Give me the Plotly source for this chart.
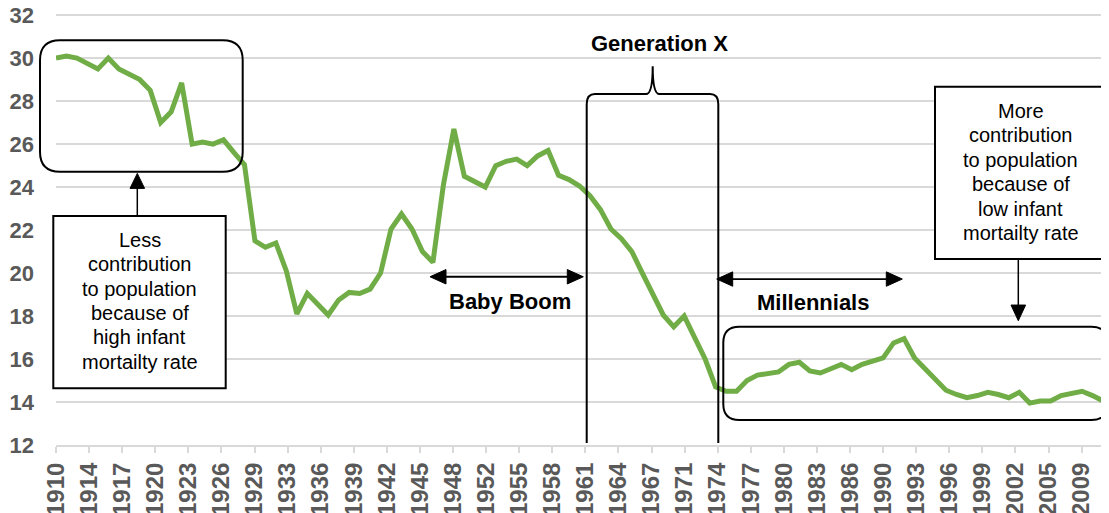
import plotly.graph_objects as go

# ---------------- data ----------------
years = list(range(1910, 2011))
birth_rate = [
    30.0, 30.1, 30.0, 29.75, 29.5, 30.0, 29.5, 29.25, 29.0, 28.5,
    27.0, 27.5, 28.85, 26.0, 26.1, 26.0, 26.2, 25.6, 25.05, 21.5,
    21.2, 21.4, 20.1, 18.1, 19.05, 18.55, 18.05, 18.75, 19.1, 19.05,
    19.25, 20.0, 22.05, 22.75, 22.05, 21.0, 20.5, 24.1, 26.7, 24.5,
    24.25, 24.0, 25.0, 25.2, 25.3, 25.0, 25.45, 25.7, 24.55, 24.35,
    24.05, 23.6, 22.95, 22.05, 21.6, 21.0, 20.0, 19.0, 18.05, 17.5,
    18.0, 17.0, 16.0, 14.7, 14.5, 14.5, 15.0, 15.25, 15.35, 15.4,
    15.75, 15.85, 15.45, 15.35, 15.55, 15.75, 15.5, 15.75, 15.9, 16.05,
    16.75, 16.95, 16.05, 15.55, 15.05, 14.55, 14.35, 14.2, 14.3, 14.45,
    14.35, 14.2, 14.45, 13.95, 14.05, 14.05, 14.3, 14.4, 14.5, 14.3,
    14.05,
]
tick_labels = ["1910", "1914", "1917", "1920", "1923", "1926", "1929", "1933",
               "1936", "1939", "1942", "1945", "1948", "1952", "1955", "1958",
               "1961", "1964", "1967", "1971", "1974", "1977", "1980", "1983",
               "1986", "1990", "1993", "1996", "1999", "2002", "2005", "2009"]
y_ticks = [12, 14, 16, 18, 20, 22, 24, 26, 28, 30, 32]

left_note = ["Less", "contribution", "to population", "because of",
             "high infant", "mortailty rate"]
right_note = ["More", "contribution", "to population", "because of",
              "low infant", "mortailty rate"]

# ---------------- layout helpers ----------------
# page body has an 8px margin, so the figure is offset by 8px
OFF = 8
W, H = 1109 - OFF, 513 - OFF
Y_MIN, Y_MAX = 12, 32.1          # a hair of headroom keeps the 32 gridline
PX_PER_UNIT = 21.5
# plot area in window pixel coordinates
PL, PR, PB = 56, 1103, 445
PT = PB - (Y_MAX - Y_MIN) * PX_PER_UNIT
TICK_STEP = 3.16


def fx(px):
    return (px - PL) / (PR - PL)


def fy(py):
    return (PB - py) / (PB - PT)


def P(px, py):
    return f"{fx(px):.5f},{fy(py):.5f}"


def rounded_rect(x0, y0, x1, y1, r):
    return (f"M {P(x0 + r, y0)} L {P(x1 - r, y0)} Q {P(x1, y0)} {P(x1, y0 + r)} "
            f"L {P(x1, y1 - r)} Q {P(x1, y1)} {P(x1 - r, y1)} "
            f"L {P(x0 + r, y1)} Q {P(x0, y1)} {P(x0, y1 - r)} "
            f"L {P(x0, y0 + r)} Q {P(x0, y0)} {P(x0 + r, y0)} Z")


def tri(tip, b1, b2):
    return f"M {P(*tip)} L {P(*b1)} L {P(*b2)} Z"


shapes = []


def add_path(path, width=2, fill=None):
    d = dict(type="path", xref="paper", yref="paper", path=path,
             line=dict(color="black", width=width), layer="above")
    if fill:
        d["fillcolor"] = fill
    shapes.append(d)


def add_line(x0, y0, x1, y1, width=2):
    shapes.append(dict(type="line", xref="paper", yref="paper",
                       x0=fx(x0), y0=fy(y0), x1=fx(x1), y1=fy(y1),
                       line=dict(color="black", width=width), layer="above"))


def add_rect(x0, y0, x1, y1, width=2):
    shapes.append(dict(type="rect", xref="paper", yref="paper",
                       x0=fx(x0), y0=fy(y0), x1=fx(x1), y1=fy(y1),
                       line=dict(color="black", width=width),
                       fillcolor="white", layer="above"))


# rounded highlight boxes
add_path(rounded_rect(40, 40, 242.7, 171.7, 20), width=2)
add_path(rounded_rect(723.3, 326.7, 1107.5, 420, 16), width=2)

# note boxes
add_rect(53.3, 216, 225.7, 388.3, width=2)
add_rect(935, 86.7, 1106.7, 259, width=2)

# arrow from left note up to box
add_line(137.3, 216, 137.3, 186, width=1.5)
add_path(tri((137.3, 173.3), (130, 188.3), (144.6, 188.3)), width=1, fill="black")

# arrow from right note down to box
add_line(1018.3, 259, 1018.3, 307, width=1.5)
add_path(tri((1018.3, 320.7), (1011, 305), (1025.6, 305)), width=1, fill="black")

# Generation X brace
brace = (f"M {P(586.7, 443)} L {P(586.7, 104)} Q {P(586.7, 94)} {P(595, 94)} "
         f"L {P(646, 94)} Q {P(652.7, 94)} {P(652.7, 66)} Q {P(652.7, 94)} {P(659.5, 94)} "
         f"L {P(710, 94)} Q {P(718.3, 94)} {P(718.3, 104)} L {P(718.3, 443)}")
add_path(brace, width=2)

# Baby Boom double arrow
add_line(444, 276.7, 569, 276.7, width=1.8)
add_path(tri((430, 276.7), (446, 269.5), (446, 283.9)), width=1, fill="black")
add_path(tri((583.3, 276.7), (567.3, 269.5), (567.3, 283.9)), width=1, fill="black")

# Millennials double arrow
add_line(730, 279, 888, 279, width=1.8)
add_path(tri((716.7, 279), (732.7, 271.8), (732.7, 286.2)), width=1, fill="black")
add_path(tri((902.3, 279), (886.3, 271.8), (886.3, 286.2)), width=1, fill="black")

annotations = []
FONT = "Liberation Sans, Arial, sans-serif"


def add_text(px, py, text, size, bold=False):
    annotations.append(dict(xref="paper", yref="paper", x=fx(px), y=fy(py),
                            text=text, showarrow=False, xanchor="center",
                            yanchor="middle",
                            font=dict(family=FONT, size=size, color="black",
                                      weight="bold" if bold else "normal")))


for k, t in enumerate(left_note):
    add_text(139.5, 240 + 24.3 * k, t, 20)
for k, t in enumerate(right_note):
    add_text(1020.5, 110.5 + 24.5 * k, t, 20)

add_text(659, 43, "Generation X", 22, bold=True)
add_text(510, 301.5, "Baby Boom", 22, bold=True)
add_text(813, 302.5, "Millennials", 22, bold=True)

# ---------------- figure ----------------
fig = go.Figure()
fig.add_trace(go.Scatter(x=years, y=birth_rate, mode="lines",
                         line=dict(color="#70AD47", width=5),
                         hoverinfo="x+y", showlegend=False))

fig.update_layout(
    width=W, height=H,
    margin=dict(l=PL - OFF, r=W - (PR - OFF), t=PT - OFF, b=H - (PB - OFF), pad=0),
    paper_bgcolor="white", plot_bgcolor="white",
    showlegend=False,
    shapes=shapes, annotations=annotations,
    font=dict(family=FONT),
)
fig.update_xaxes(
    range=[years[0], years[-1]], automargin=False,
    tickmode="array",
    tickvals=[years[0] + TICK_STEP * k for k in range(len(tick_labels))],
    ticktext=tick_labels, tickangle=-90,
    ticks="outside", ticklen=6, tickwidth=1.5, tickcolor="#d9d9d9",
    showline=True, linecolor="#d9d9d9", linewidth=2,
    showgrid=False, zeroline=False, ticklabeloverflow="allow",
    tickfont=dict(family=FONT, size=24, color="#595959", weight="bold"),
)
fig.update_yaxes(
    range=[Y_MIN, Y_MAX], automargin=False,
    tickmode="array", tickvals=y_ticks, ticktext=[str(v) for v in y_ticks],
    showgrid=True, gridcolor="#d9d9d9", gridwidth=1.5,
    showline=False, zeroline=False, ticks="",
    ticklabelstandoff=21, ticklabeloverflow="allow",
    tickfont=dict(family=FONT, size=22, color="#595959", weight="bold"),
)

fig.write_html("out.html")
